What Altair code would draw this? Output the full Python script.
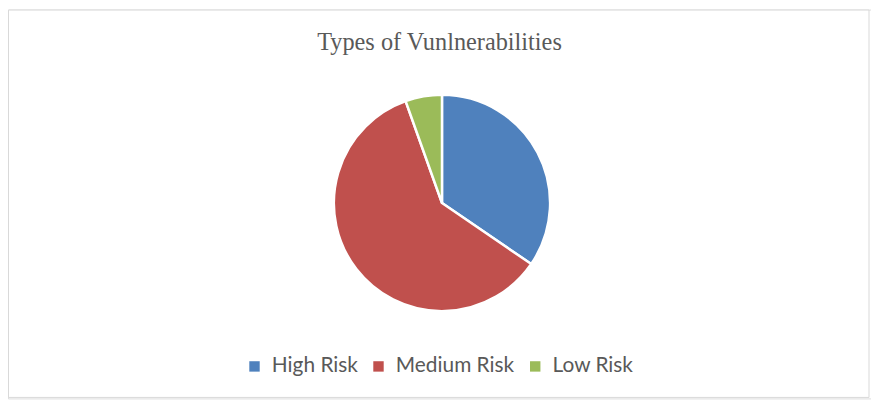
import altair as alt
import pandas as pd

categories = ["High Risk", "Medium Risk", "Low Risk"]
counts = [19, 33, 3]
colors = ["#4F81BD", "#C0504D", "#9BBB59"]
title_text = "Types of Vunlnerabilities"

df = pd.DataFrame({"category": categories, "count": counts, "order": [0, 1, 2]})

W, H = 870, 392

border = alt.Chart(pd.DataFrame({"a": [0]})).mark_rect(
    fill="white", stroke="#D9D9D9", strokeWidth=1
).encode(x=alt.value(0.5), x2=alt.value(868), y=alt.value(0.5), y2=alt.value(391))

title = alt.Chart(pd.DataFrame({"t": [title_text]})).mark_text(
    font="Liberation Serif", fontSize=24.5, color="#595959", align="center", baseline="middle"
).encode(text="t:N", x=alt.value(435), y=alt.value(34))

pie = alt.Chart(df).mark_arc(
    radius=109, stroke="white", strokeWidth=2.5
).encode(
    theta=alt.Theta("count:Q", stack=True),
    order=alt.Order("order:Q"),
    color=alt.Color(
        "category:N",
        scale=alt.Scale(domain=categories, range=colors),
        sort=categories,
        legend=alt.Legend(
            title=None,
            orient="none",
            legendX=238,
            legendY=349,
            direction="horizontal",
            symbolType="square",
            symbolSize=110,
            symbolStrokeWidth=0,
            labelFont="Lato",
            labelFontSize=21,
            labelColor="#595959",
            labelOffset=7,
            columnPadding=10,
        ),
    ),
    x=alt.value(437.5),
    y=alt.value(195),
)

chart = alt.layer(border, title, pie).properties(
    width=W,
    height=H,
    autosize=alt.AutoSizeParams(type="none"),
    padding=0,
).configure_view(stroke=None).configure(background="white")

chart.save("out.html", embed_options={"renderer": "svg", "actions": False})
